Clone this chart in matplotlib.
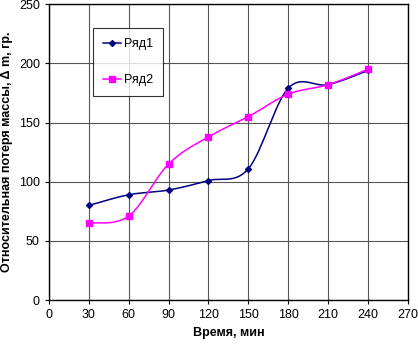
import numpy as np
import matplotlib
matplotlib.use("Agg")
import matplotlib.pyplot as plt
from matplotlib.lines import Line2D

time_min = [30, 60, 90, 120, 150, 180, 210, 240]
series1 = [80, 89, 93, 101, 111, 179, 182, 194]
series2 = [65, 71, 115, 138, 155, 174, 182, 195]
x_ticks = [0, 30, 60, 90, 120, 150, 180, 210, 240, 270]
y_ticks = [0, 50, 100, 150, 200, 250]

plt.rcParams['font.family'] = ['Liberation Sans', 'DejaVu Sans']


def smooth(xs, ys, n=30):
    P = np.column_stack([xs, ys]).astype(float)
    m = len(P)
    out = []
    for i in range(m - 1):
        p0 = P[i - 1] if i > 0 else P[i]
        p1 = P[i]
        p2 = P[i + 1]
        p3 = P[i + 2] if i + 2 < m else P[i + 1]
        c1 = p1 + (p2 - p0) / 6.0
        c2 = p2 - (p3 - p1) / 6.0
        t = np.linspace(0, 1, n)[:, None]
        seg = ((1 - t) ** 3) * p1 + 3 * ((1 - t) ** 2) * t * c1 + 3 * (1 - t) * t ** 2 * c2 + t ** 3 * p2
        out.append(seg if i == 0 else seg[1:])
    c = np.vstack(out)
    return c[:, 0], c[:, 1]


fig = plt.figure(figsize=(4.18, 3.45), dpi=100)
ax = fig.add_axes([0.117, 0.130, 0.859, 0.858])

c1 = '#000080'
c2 = '#FF00FF'
sx, sy = smooth(time_min, series1)
ax.plot(sx, sy, color=c1, lw=1.1, zorder=3)
ax.plot(time_min, series1, ls='none', marker='D', ms=3.0, color=c1, zorder=4)
sx, sy = smooth(time_min, series2)
ax.plot(sx, sy, color=c2, lw=1.1, zorder=3)
ax.plot(time_min, series2, ls='none', marker='s', ms=4.0, color=c2, zorder=4)

ax.set_xlim(0, 270)
ax.set_ylim(0, 250)
ax.set_xticks(x_ticks)
ax.set_yticks(y_ticks)
ax.grid(True, color='#555555', lw=0.8)
ax.set_axisbelow(True)
for s in ax.spines.values():
    s.set_linewidth(1.0)
ax.tick_params(labelsize=9, direction='out', length=3)
ax.set_xlabel('Время, мин', fontsize=9, fontweight='bold', labelpad=4)
ax.set_ylabel('Относительная потеря массы, Δ m, гр.', fontsize=9, fontweight='bold', labelpad=4)

handles = [Line2D([], [], color=c1, marker='D', ms=3.0, lw=1.1),
           Line2D([], [], color=c2, marker='s', ms=4.0, lw=1.1)]
leg = ax.legend(handles, ['Ряд1', 'Ряд2'], loc='upper left', bbox_to_anchor=(0.123, 0.919),
                borderaxespad=0, frameon=True, fancybox=False, edgecolor='black', fontsize=9,
                labelspacing=1.95, handlelength=1.4, borderpad=0.8, handletextpad=0.3)
leg.get_frame().set_linewidth(0.8)

fig.savefig('out.png', dpi=100)
